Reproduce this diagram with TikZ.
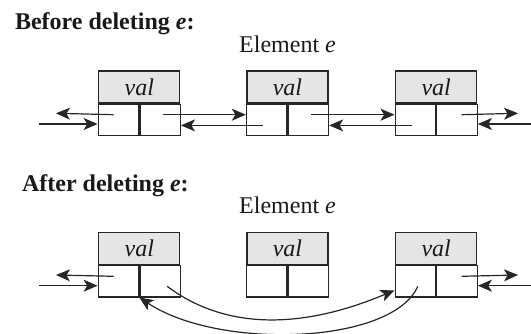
\documentclass[tikz,border=0pt]{standalone}
\usepackage{fontspec}
\setmainfont{Liberation Serif}
\usetikzlibrary{calc,arrows.meta}

\tikzset{
	valcell/.style={draw=black!85, fill=black!10, line width=0.6pt, minimum width=40.5pt, minimum height=16pt, inner sep=0pt},
	ptrcell/.style={draw=black!85, line width=0.6pt, minimum width=20.25pt, minimum height=15.6pt, inner sep=0pt},
	ptr/.style={draw=black!85, line width=0.6pt, -{Stealth[length=7pt, width=6pt, inset=1.8pt]}}
}

\begin{document}
\begin{tikzpicture}[x=0.5pt, y=0.5pt, font=\fontsize{12}{14}\selectfont, text=black!90]
		%%%%% FRAME %%%%%
		\useasboundingbox (0, 0) rectangle (531, 333);
		
		%%%%% BEFORE %%%%%
		\node[anchor=base west, font=\fontsize{12}{14}\selectfont\bfseries] (before) at (8, 304) {Before deleting \textit{e}:};
		\node[anchor=base] (telem) at (287.5, 280.3) {Element \textit{e}};
		
		\foreach \n/\x in {t1/139.3, t2/287.5, t3/436.2} {
			\node[valcell] (\n) at (\x, 246.1) {\textit{val}};
			\node[ptrcell, anchor=north east] (\n l) at (\n.south) {};
			\node[ptrcell, anchor=north west] (\n r) at (\n.south) {};
		}
		
		\coordinate (tlout) at (56, 219.7);
		\coordinate (tlin) at (39, 209);
		\coordinate (trout) at (518, 219.7);
		\coordinate (trin) at (531, 209);
		
		\draw[ptr] ($(t1l.center)+(-4.8, 5)$) -- (tlout);
		\draw[ptr] (tlin) -- (tlin -| t1l.west);
		\draw[ptr] ($(t1r.center)+(3, 5)$) -- ($(t2l.west)+(0, 5)$);
		\draw[ptr] ($(t2l.center)+(-4, -5.7)$) -- ($(t1r.east)+(0, -5.7)$);
		\draw[ptr] ($(t2r.center)+(3, 5)$) -- ($(t3l.west)+(0, 5)$);
		\draw[ptr] ($(t3l.center)+(-3.6, -5.7)$) -- ($(t2r.east)+(0, -5.7)$);
		\draw[ptr] ($(t3r.center)+(4.6, 5)$) -- (trout);
		\draw[ptr] (trin) -- (trin -| t3r.east);
		
		%%%%% AFTER %%%%%
		\node[anchor=base west, font=\fontsize{12}{14}\selectfont\bfseries] (after) at (15, 141.3) {After deleting \textit{e}:};
		\node[anchor=base] (belem) at (287.5, 120) {Element \textit{e}};
		
		\foreach \n/\x in {b1/139.3, b2/287.5, b3/436.2} {
			\node[valcell] (\n) at (\x, 84.5) {\textit{val}};
			\node[ptrcell, anchor=north east] (\n l) at (\n.south) {};
			\node[ptrcell, anchor=north west] (\n r) at (\n.south) {};
		}
		
		\coordinate (blout) at (56, 58);
		\coordinate (blin) at (39, 47.3);
		\coordinate (brout) at (518, 58);
		\coordinate (brin) at (531, 47.3);
		
		\draw[ptr] ($(b1l.center)+(-4.8, 5)$) -- (blout);
		\draw[ptr] (blin) -- (blin -| b1l.west);
		\draw[ptr] ($(b3r.center)+(4.6, 5)$) -- (brout);
		\draw[ptr] (brin) -- (brin -| b3r.east);
		
		% links that skip e
		\draw[ptr] ($(b1r.center)+(7, -5)$) .. controls +(60, -45) and +(-90, -38) .. ($(b3l.west)+(0, -9)$);
		\draw[ptr] ($(b3l.center)+(2.4, -5)$) .. controls +(-25, -58) and +(80, -53) .. (b1l.south east);
		
		%%%%% END %%%%%
	\end{tikzpicture}
\end{document}
